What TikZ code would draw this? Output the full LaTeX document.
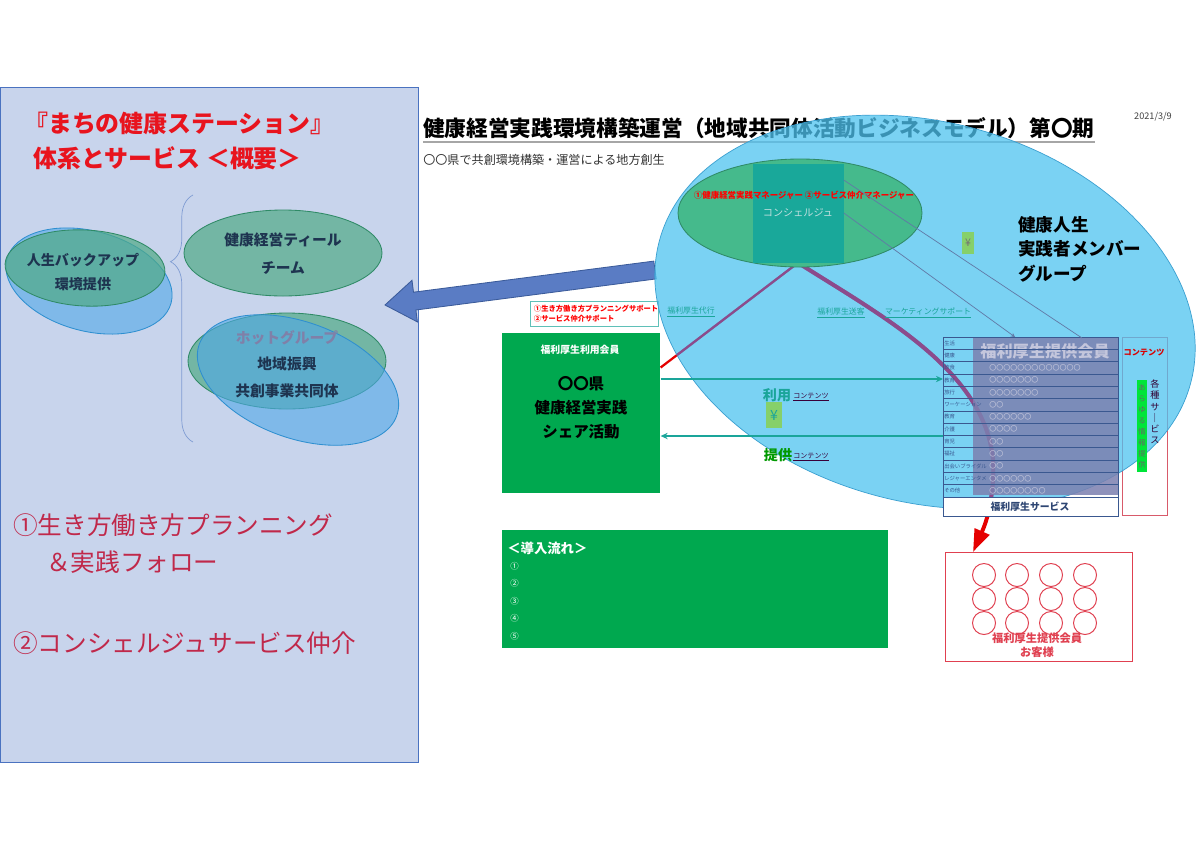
\documentclass[tikz,border=0pt]{standalone}
\usepackage{fontspec}
\setmainfont{Noto Sans CJK JP}
\usetikzlibrary{arrows.meta, decorations.pathreplacing, calc}
\definecolor{panelbg}{HTML}{C8D4EC}
\definecolor{paneledge}{HTML}{4A72C0}
\definecolor{titlered}{HTML}{E8141E}
\definecolor{listred}{HTML}{C0284A}
\definecolor{ellgreen}{HTML}{4FAA86}
\definecolor{ellgreenedge}{HTML}{2F8A66}
\definecolor{ellblue}{HTML}{4FA8E8}
\definecolor{ellblueedge}{HTML}{2E8FD0}
\definecolor{ellnavy}{HTML}{1E3450}
\definecolor{skyfill}{HTML}{4EC3F0}
\definecolor{skyedge}{HTML}{3A9FD0}
\definecolor{boxgreen}{HTML}{00A84F}
\definecolor{flowteal}{HTML}{1AA59A}
\definecolor{linkpurple}{HTML}{8C4B8C}
\definecolor{tblline}{HTML}{3A5890}
\definecolor{tblgray}{HTML}{7C80B0}
\definecolor{yengreen}{HTML}{86D06A}
\definecolor{custred}{HTML}{E04050}
\definecolor{contred}{HTML}{D85A6A}
\definecolor{innergreen}{HTML}{45BA8C}
\definecolor{conciergeteal}{HTML}{19A89A}
\definecolor{arrowblue}{HTML}{5A7CC4}
\newcommand{\fsz}[2]{\fontsize{#1}{#2}\selectfont}
\tikzset{
  every node/.style={inner sep=0pt},
  greenell/.style={draw=ellgreenedge, fill=ellgreen, fill opacity=0.7, line width=0.6pt},
  blueell/.style={draw=ellblueedge, fill=ellblue, fill opacity=0.6, line width=0.6pt},
  elltxt/.style={text=ellnavy, align=center},
  linktag/.style={font=\fsz{5.6}{7}, text=flowteal},
  flowarrow/.style={draw=flowteal, line width=1.3pt, -{Stealth[length=5pt, width=4.5pt]}},
  redlink/.style={draw=red!90!black, line width=1.6pt},
  rowlbl/.style={font=\fsz{3.8}{5}, anchor=west, text=tblline},
  rowdots/.style={font=\fsz{5}{6}, anchor=west, text=white!60!tblgray},
  yenbox/.style={fill=yengreen, minimum width=9pt, minimum height=16pt, font=\fsz{7.5}{8}, text=black!55}
}

\begin{document}
\begin{tikzpicture}[x=0.025cm, y=-0.025cm]
\useasboundingbox[fill=white] (0,0) rectangle (1200,849);

% left panel
\draw[fill=panelbg, draw=paneledge, line width=0.6pt] (0,87) rectangle (418,762);
\node[anchor=west, font=\fsz{17}{20}\bfseries, text=titlered] (ltitle1) at (24,123) {『まちの健康ステーション』};
\node[anchor=west, font=\fsz{17}{20}\bfseries, text=titlered] (ltitle2) at (33,158) {体系とサービス ＜概要＞};
\draw[decorate, decoration={brace, amplitude=16pt, aspect=0.73}, draw=paneledge!70, line width=0.5pt] (193,442) -- (193,195);

\draw[blueell, rotate around={-15:(89,281)}] (89,281) ellipse [x radius=85, y radius=50];
\draw[greenell, rotate around={-3:(85,268)}] (85,268) ellipse [x radius=80, y radius=38];
\node[elltxt, font=\fsz{10}{17.5}\bfseries] (backup) at (83,272) {人生バックアップ\\環境提供};
\draw[greenell] (283,253) ellipse [x radius=99, y radius=43];
\node[elltxt, font=\fsz{10.5}{20}\bfseries] (teal) at (283,254) {健康経営ティール\\チーム};
\draw[greenell] (287,361) ellipse [x radius=99, y radius=48];
\draw[blueell, rotate around={-20:(298,380)}] (298,380) ellipse [x radius=105, y radius=58];
\node[elltxt, font=\fsz{10.5}{19}\bfseries] (hot) at (287,364) {\textcolor[HTML]{8080A8}{ホットグループ}\\地域振興\\共創事業共同体};

\node[anchor=west, font=\fsz{17.5}{20}, text=listred] (plan1) at (13,525) {①生き方働き方プランニング};
\node[anchor=west, font=\fsz{17.5}{20}, text=listred] (plan2) at (46,562) {＆実践フォロー};
\node[anchor=west, font=\fsz{17.5}{20}, text=listred] (plan3) at (13,643) {②コンシェルジュサービス仲介};

% block arrow back to the panel
\draw[fill=arrowblue, draw=paneledge!80!black, line width=0.6pt] (385,305) -- (412.0,280.3) -- (413.5,292.2) -- (653.8,261.1) -- (656.2,278.9) -- (415.9,310.0) -- (417.4,321.9) -- cycle;

% right header
\node[anchor=west, font=\fsz{15.4}{18}\bfseries] (rtitle) at (423,128) {健康経営実践環境構築運営（地域共同体活動ビジネスモデル）第〇期};
\draw[gray!70, line width=1.5pt] ([yshift=-2pt]rtitle.south west) -- ([yshift=-2pt]rtitle.south east);
\node[font=\fsz{6.5}{8}, text=black!75] (date) at (1153,117) {2021/3/9};
\node[anchor=west, font=\fsz{8.6}{10}, text=black!80] (subtitle) at (423,160) {〇〇県で共創環境構築・運営による地方創生};

% member side
\node[fill=boxgreen, anchor=north west, minimum width=112.4pt, minimum height=113.8pt] (share) at (502,333) {};
\node[text=white, font=\fsz{7}{8}\bfseries] (sharehd) at (580,350) {福利厚生利用会員};
\node[font=\fsz{11}{17}\bfseries, align=center] (sharetxt) at (581,408) {〇〇県\\健康経営実践\\シェア活動};
\node[draw=flowteal!70, fill=white, line width=0.6pt, anchor=north west, text width=86pt, inner sep=2.5pt, align=left, text=red, font=\fsz{5.2}{7.5}\bfseries] (support) at (530,301) {①生き方働き方プランニングサポート\\②サービス仲介サポート};

\node[fill=boxgreen, anchor=north west, minimum width=274.6pt, minimum height=83.9pt] (intro) at (502,530) {};
\node[anchor=west, text=white, font=\fsz{9.5}{11}\bfseries] (introhd) at (507,548) {＜導入流れ＞};
\foreach \n [count=\i] in {①,②,③,④,⑤}
  \node[anchor=west, text=white, font=\fsz{6}{7}] (intro\i) at (510,{566+(\i-1)*17.5}) {\n};

\node[draw=custred, line width=0.9pt, fill=white, anchor=north west, minimum width=133pt, minimum height=77.5pt] (guests) at (945,552) {};
\foreach \cx in {984,1017,1051,1085}
  \foreach \cy in {575,599,623}
    \draw[custred, line width=0.7pt] (\cx,\cy) circle [radius=11.5];
\node[text=custred, font=\fsz{8}{10}\bfseries, align=center] (guestlbl) at (1037,645) {福利厚生提供会員\\お客様};

\node[draw=contred, line width=0.8pt, anchor=north west, minimum width=32pt, minimum height=126.6pt] (contents) at (1122,337) {};

% concierge links
\node[minimum width=64.7pt, minimum height=70.4pt] (concierge) at (798,213) {};
\coordinate (guestIn) at (973,552);
\draw[redlink] (concierge.south) -- (share.30);
\draw[redlink, line width=2.8pt, -{Triangle[length=16pt, width=11pt]}] (concierge.south) .. controls (880,315) and (985,370) .. (993,460) .. controls (995,500) and (985,525) .. (guestIn);

% big group ellipse
\path[fill=skyfill, fill opacity=0.75, draw=skyedge, line width=0.5pt, rotate around={-15:(925,312)}] (925,312) ellipse [x radius=275, y radius=190];
\begin{scope}
\clip[rotate around={-15:(925,312)}] (925,312) ellipse [x radius=275, y radius=190];
\draw[linkpurple, line width=1.6pt] (concierge.south) -- (share.30);
\draw[linkpurple, line width=2.8pt] (concierge.south) .. controls (880,315) and (985,370) .. (993,460) .. controls (995,500) and (985,525) .. (guestIn);
\end{scope}

\draw[draw=ellgreenedge, fill=innergreen, line width=0.6pt] (800,213) ellipse [x radius=122, y radius=54];
\node[fill=conciergeteal, minimum width=64.7pt, minimum height=70.4pt, text=teal!25!white, font=\fsz{7.2}{8}] (conciergebox) at (798,213) {コンシェルジュ};
\node[text=red, font=\fsz{6}{7}\bfseries] (mgrlbl) at (804,195) {①健康経営実践マネージャー ②サービス仲介マネージャー};

\node[anchor=north west, font=\fsz{12.5}{17.5}\bfseries, align=left] (group) at (1018,216) {健康人生\\実践者メンバー\\グループ};
\node[yenbox] (yenTop) at (968,243) {¥};

% service table
\node[fill=white, anchor=north west, minimum width=124.5pt, minimum height=13.5pt] (svcrow) at (943,497) {};
\node[fill=tblgray, fill opacity=0.85, anchor=north west, minimum width=103.1pt, minimum height=112.3pt] (provbox) at (973,337) {};
\node[text=white!55!tblgray, font=\fsz{11.5}{13}\bfseries] (provlbl) at (1045,351) {福利厚生提供会員};
\foreach \lbl/\vals [count=\i] in {生活/{},健康/{},飲食/〇〇〇〇〇〇〇〇〇〇〇〇〇,教育/〇〇〇〇〇〇〇,旅行/〇〇〇〇〇〇〇,ワーケーション/〇〇,教育/〇〇〇〇〇〇,介護/〇〇〇〇,育児/〇〇,福祉/〇〇,出会いブライダル/〇〇,レジャーエンタメ/〇〇〇〇〇〇,その他/〇〇〇〇〇〇〇〇} {
  \draw[tblline, line width=0.4pt] (943,{337+12.3*\i}) -- (1118,{337+12.3*\i});
  \node[rowlbl] (row\i) at (944,{337+12.3*\i-6.15}) {\lbl};
  \node[rowdots] (vals\i) at (989,{337+12.3*\i-6.15}) {\vals};
}
\draw[tblline, line width=0.5pt] (943,337) rectangle (1118,516);
\node[text=tblline!80!black, font=\fsz{7}{8}\bfseries] (svc) at (1030,507) {福利厚生サービス};

\node[text=red!85!black, font=\fsz{5.8}{7}\bfseries] (contlbl) at (1144,353) {コンテンツ};
\node[fill=green!75!cyan!90!black, minimum width=7pt, minimum height=65pt, font=\fsz{5.2}{7.8}, text=black!60, align=center] (infostrip) at (1142,426) {あ\\ら\\ゆ\\る\\情\\報\\提\\供};
\node[text=black!60!violet, font=\fsz{6.5}{8}, align=center] (svcvert) at (1155,412) {各\\種\\サ\\｜\\ビ\\ス};

% flows between member box and table
\coordinate (useIn) at (943,379);
\coordinate (backOut) at (943,436);
\coordinate (provIn) at (1015,337);
\coordinate (provTop) at (1082,338);
\draw[flowarrow] (share.east |- useIn) -- (useIn);
\draw[flowarrow] (backOut) -- (share.east |- backOut);
\draw[tblline!80, line width=0.5pt] ([yshift=-12pt]concierge.north east) -- (provTop);
\draw[tblline!80, line width=0.5pt, -{Stealth[length=3pt, width=3pt]}] (concierge.east) -- (provIn);

\node[text=flowteal, font=\fsz{10}{11}\bfseries] (uselbl) at (777,395) {利用};
\node[text=black!55!violet, font=\fsz{5}{6}] (usecont) at (811,397) {\underline{コンテンツ}};
\node[yenbox, minimum width=12pt, minimum height=19pt, font=\fsz{10}{11}, text=flowteal] (yenMid) at (774,415) {¥};
\node[text=green!60!black, font=\fsz{10}{11}\bfseries] (givelbl) at (778,455) {提供};
\node[text=black!55!violet, font=\fsz{5}{6}] (givecont) at (811,457) {\underline{コンテンツ}};

\node[linktag] (agency) at (691,312) {\underline{福利厚生代行}};
\node[linktag] (sendcust) at (841,313) {\underline{福利厚生送客}};
\node[linktag] (mktsupport) at (928,313) {\underline{マーケティングサポート}};
\end{tikzpicture}
\end{document}
